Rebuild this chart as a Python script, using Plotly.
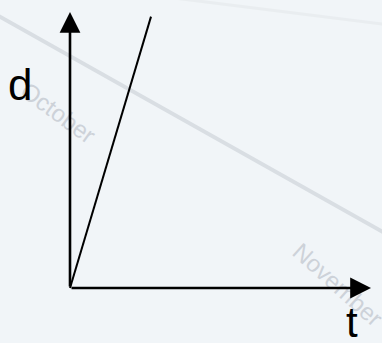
import plotly.graph_objects as go

# distance-time line (constant speed)
t_vals = [0, 1]
d_vals = [0, 3.35]

# faint background watermark words
wm_words = ["October", "November"]

W, H = 382, 343
ox, oy = 70, 288      # origin in pixels
scale = 81.0          # pixels per unit


def px_x(p):
    return (p - ox) / scale


def px_y(p):
    return (oy - p) / scale


fig = go.Figure()

# faint diagonal watermark lines
fig.add_trace(go.Scatter(x=[px_x(-5), px_x(390)], y=[px_y(14), px_y(236)],
                         mode="lines", line=dict(color="#d9dee3", width=4),
                         hoverinfo="skip", showlegend=False))
fig.add_trace(go.Scatter(x=[px_x(150), px_x(390)], y=[px_y(-5), px_y(25)],
                         mode="lines", line=dict(color="#e9edf0", width=3),
                         hoverinfo="skip", showlegend=False))

# the d-t line
fig.add_trace(go.Scatter(x=t_vals, y=d_vals, mode="lines",
                         line=dict(color="black", width=2),
                         hoverinfo="skip", showlegend=False))

annotations = [
    dict(x=px_x(58), y=px_y(112), text=wm_words[0], textangle=36,
         font=dict(size=24, color="#cdd2d9", family="Liberation Sans"), showarrow=False),
    dict(x=px_x(338), y=px_y(284), text=wm_words[1], textangle=42,
         font=dict(size=24, color="#cdd2d9", family="Liberation Sans"), showarrow=False),
    # axes with arrowheads
    dict(x=0, y=px_y(12), ax=0, ay=0, xref="x", yref="y", axref="x", ayref="y",
         showarrow=True, arrowhead=2, arrowsize=1.6, arrowwidth=2.6, arrowcolor="black", text=""),
    dict(x=px_x(371), y=0, ax=0, ay=0, xref="x", yref="y", axref="x", ayref="y",
         showarrow=True, arrowhead=2, arrowsize=1.6, arrowwidth=2.6, arrowcolor="black", text=""),
    # labels
    dict(x=px_x(20), y=px_y(84), text="d", showarrow=False,
         font=dict(size=44, color="black", family="Liberation Sans")),
    dict(x=px_x(352), y=px_y(322), text="t", showarrow=False,
         font=dict(size=42, color="black", family="Liberation Sans")),
]

fig.update_layout(
    width=W, height=H,
    margin=dict(l=0, r=0, t=0, b=0),
    paper_bgcolor="#f1f5f8",
    plot_bgcolor="#f1f5f8",
    annotations=annotations,
    showlegend=False,
)
fig.update_xaxes(range=[px_x(0), px_x(W)], visible=False, fixedrange=True)
fig.update_yaxes(range=[px_y(H), px_y(0)], visible=False, fixedrange=True)

fig.write_html("out.html", config=dict(displayModeBar=False),
               post_script="document.body.style.margin='0';document.body.style.background='#f1f5f8';")
